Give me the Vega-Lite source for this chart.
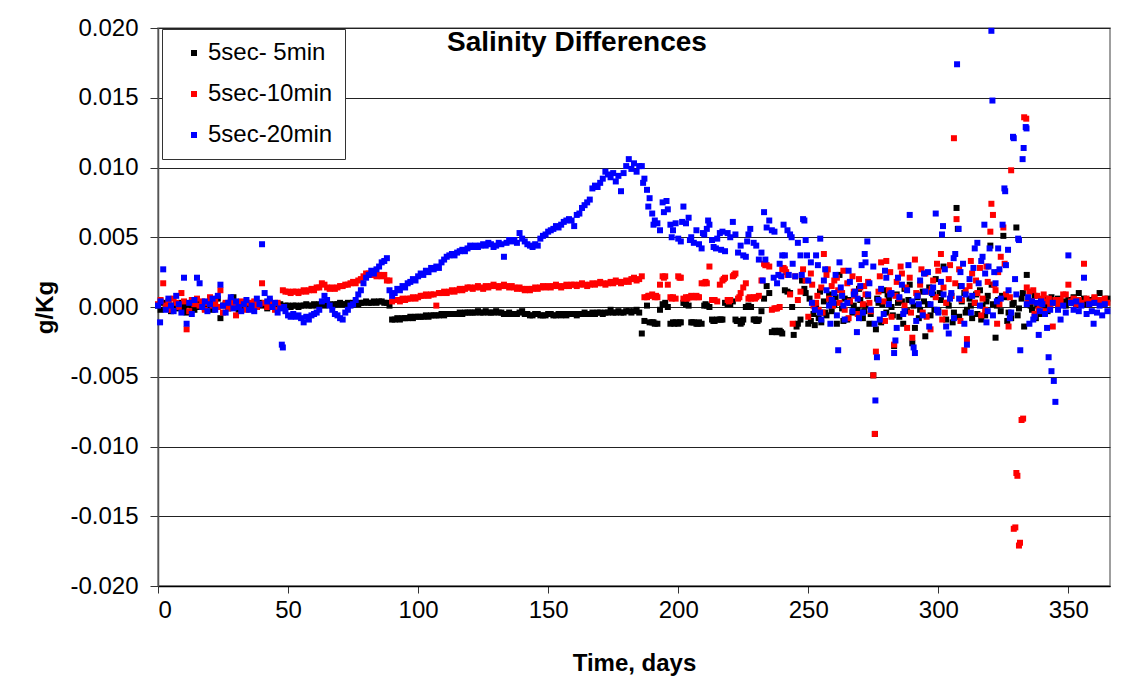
{
  "$schema": "https://vega.github.io/schema/vega-lite/v6.json",
  "width": 952,
  "height": 558,
  "autosize": "none",
  "padding": {"left": 158, "top": 28, "right": 32, "bottom": 111},
  "background": "white",
  "title": {
    "text": "Salinity Differences",
    "font": "Liberation Sans",
    "fontSize": 28,
    "fontWeight": "bold",
    "color": "#000",
    "anchor": "middle",
    "dx": -57,
    "dy": 45
  },
  "config": {
    "font": "Liberation Sans",
    "view": {"stroke": "#808080", "strokeWidth": 1.5},
    "axis": {
      "labelFont": "Liberation Sans",
      "labelFontSize": 24,
      "labelColor": "#000",
      "titleFont": "Liberation Sans",
      "titleFontSize": 24,
      "titleFontWeight": "bold",
      "titleColor": "#000",
      "tickColor": "#333",
      "domainColor": "#333",
      "domainWidth": 1.5,
      "tickWidth": 1
    }
  },
  "datasets": {
    "s5": [
      {"d":0,"v":0.0001},{"d":1,"v":-0.0002},{"d":2,"v":0.0003},{"d":3,"v":0.0000},{"d":4,"v":0.0002},{"d":5,"v":-0.0003},{"d":6,"v":0.0001},{"d":7,"v":0.0002},{"d":8,"v":-0.0001},{"d":9,"v":0.0003},
      {"d":10,"v":0.0000},{"d":11,"v":-0.0004},{"d":12,"v":0.0002},{"d":13,"v":0.0001},{"d":14,"v":-0.0002},{"d":15,"v":0.0003},{"d":16,"v":0.0000},{"d":17,"v":0.0002},{"d":18,"v":-0.0001},{"d":19,"v":0.0001},
      {"d":20,"v":0.0003},{"d":21,"v":-0.0002},{"d":22,"v":0.0000},{"d":23,"v":0.0006},{"d":24,"v":-0.0008},{"d":25,"v":0.0001},{"d":26,"v":0.0002},{"d":27,"v":-0.0001},{"d":28,"v":0.0004},{"d":29,"v":0.0007},
      {"d":30,"v":0.0001},{"d":31,"v":-0.0002},{"d":32,"v":0.0002},{"d":33,"v":0.0000},{"d":34,"v":0.0003},{"d":35,"v":0.0001},{"d":36,"v":-0.0001},{"d":37,"v":0.0002},{"d":38,"v":0.0000},{"d":39,"v":0.0003},
      {"d":40,"v":0.0001},{"d":41,"v":0.0002},{"d":42,"v":-0.0001},{"d":43,"v":0.0001},{"d":44,"v":0.0002},{"d":45,"v":0.0000},{"d":46,"v":0.0001},{"d":47,"v":0.0002},{"d":48,"v":0.0000},{"d":49,"v":0.0001},
      {"d":50,"v":0.0001},{"d":51,"v":0.0000},{"d":52,"v":0.0001},{"d":53,"v":0.0001},{"d":54,"v":0.0000},{"d":55,"v":0.0001},{"d":56,"v":0.0001},{"d":57,"v":0.0002},{"d":58,"v":0.0001},{"d":59,"v":0.0001},
      {"d":60,"v":0.0002},{"d":61,"v":0.0001},{"d":62,"v":0.0002},{"d":63,"v":0.0002},{"d":64,"v":0.0001},{"d":65,"v":0.0002},{"d":66,"v":0.0002},{"d":67,"v":0.0001},{"d":68,"v":0.0002},{"d":69,"v":0.0002},
      {"d":70,"v":0.0003},{"d":71,"v":0.0002},{"d":72,"v":0.0002},{"d":73,"v":0.0003},{"d":74,"v":0.0002},{"d":75,"v":0.0003},{"d":76,"v":0.0003},{"d":77,"v":0.0002},{"d":78,"v":0.0003},{"d":79,"v":0.0003},
      {"d":80,"v":0.0004},{"d":81,"v":0.0003},{"d":82,"v":0.0003},{"d":83,"v":0.0004},{"d":84,"v":0.0003},{"d":85,"v":0.0004},{"d":86,"v":0.0004},{"d":87,"v":0.0003},{"d":88,"v":0.0003},{"d":89,"v":0.0001},
      {"d":90,"v":-0.0009},{"d":91,"v":-0.0009},{"d":92,"v":-0.0008},{"d":93,"v":-0.0009},{"d":94,"v":-0.0008},{"d":95,"v":-0.0008},{"d":96,"v":-0.0008},{"d":97,"v":-0.0007},{"d":98,"v":-0.0008},{"d":99,"v":-0.0007},
      {"d":100,"v":-0.0007},{"d":101,"v":-0.0007},{"d":102,"v":-0.0007},{"d":103,"v":-0.0006},{"d":104,"v":-0.0007},{"d":105,"v":-0.0006},{"d":106,"v":-0.0006},{"d":107,"v":-0.0006},{"d":108,"v":-0.0006},{"d":109,"v":-0.0005},
      {"d":110,"v":-0.0006},{"d":111,"v":-0.0005},{"d":112,"v":-0.0005},{"d":113,"v":-0.0005},{"d":114,"v":-0.0005},{"d":115,"v":-0.0005},{"d":116,"v":-0.0004},{"d":117,"v":-0.0005},{"d":118,"v":-0.0004},{"d":119,"v":-0.0004},
      {"d":120,"v":-0.0004},{"d":121,"v":-0.0004},{"d":122,"v":-0.0004},{"d":123,"v":-0.0003},{"d":124,"v":-0.0004},{"d":125,"v":-0.0004},{"d":126,"v":-0.0003},{"d":127,"v":-0.0004},{"d":128,"v":-0.0004},{"d":129,"v":-0.0004},
      {"d":130,"v":-0.0003},{"d":131,"v":-0.0004},{"d":132,"v":-0.0004},{"d":133,"v":-0.0005},{"d":134,"v":-0.0005},{"d":135,"v":-0.0004},{"d":136,"v":-0.0005},{"d":137,"v":-0.0005},{"d":138,"v":-0.0005},{"d":139,"v":-0.0004},
      {"d":140,"v":-0.0003},{"d":141,"v":-0.0005},{"d":142,"v":-0.0005},{"d":143,"v":-0.0006},{"d":144,"v":-0.0006},{"d":145,"v":-0.0005},{"d":146,"v":-0.0005},{"d":147,"v":-0.0006},{"d":148,"v":-0.0006},{"d":149,"v":-0.0006},
      {"d":150,"v":-0.0005},{"d":151,"v":-0.0005},{"d":152,"v":-0.0006},{"d":153,"v":-0.0006},{"d":154,"v":-0.0005},{"d":155,"v":-0.0006},{"d":156,"v":-0.0005},{"d":157,"v":-0.0006},{"d":158,"v":-0.0005},{"d":159,"v":-0.0005},
      {"d":160,"v":-0.0005},{"d":161,"v":-0.0006},{"d":162,"v":-0.0005},{"d":163,"v":-0.0005},{"d":164,"v":-0.0004},{"d":165,"v":-0.0005},{"d":166,"v":-0.0005},{"d":167,"v":-0.0004},{"d":168,"v":-0.0005},{"d":169,"v":-0.0004},
      {"d":170,"v":-0.0004},{"d":171,"v":-0.0005},{"d":172,"v":-0.0004},{"d":173,"v":-0.0004},{"d":174,"v":-0.0002},{"d":175,"v":-0.0004},{"d":176,"v":-0.0004},{"d":177,"v":-0.0003},{"d":178,"v":-0.0004},{"d":179,"v":-0.0004},
      {"d":180,"v":-0.0003},{"d":181,"v":-0.0003},{"d":182,"v":-0.0004},{"d":183,"v":-0.0003},{"d":184,"v":-0.0002},{"d":185,"v":-0.0004},{"d":186,"v":-0.0019},{"d":187,"v":-0.0010},{"d":188,"v":0.0001},{"d":189,"v":-0.0011},
      {"d":190,"v":-0.0011},{"d":190.5,"v":-0.0011},{"d":191,"v":-0.0012},{"d":192,"v":-0.0012},{"d":193,"v":-0.0002},{"d":194,"v":0.0002},{"d":195,"v":0.0003},{"d":196,"v":0.0000},{"d":197,"v":-0.0012},{"d":198,"v":-0.0011},{"d":198.5,"v":-0.0012},{"d":199,"v":-0.0011},
      {"d":200,"v":-0.0012},{"d":200.5,"v":-0.0011},{"d":201,"v":-0.0011},{"d":202,"v":0.0003},{"d":202.5,"v":0.0003},{"d":203,"v":0.0002},{"d":204,"v":0.0001},{"d":205,"v":-0.0011},{"d":205.5,"v":-0.0011},{"d":206,"v":-0.0011},{"d":207,"v":-0.0012},{"d":207.5,"v":-0.0012},{"d":208,"v":-0.0011},{"d":209,"v":-0.0012},
      {"d":210,"v":0.0001},{"d":210.5,"v":0.0002},{"d":211,"v":0.0001},{"d":212,"v":0.0000},{"d":213,"v":-0.0009},{"d":213.5,"v":-0.0010},{"d":214,"v":-0.0010},{"d":215,"v":-0.0009},{"d":216,"v":-0.0009},{"d":216.5,"v":-0.0009},{"d":217,"v":-0.0009},{"d":218,"v":0.0003},{"d":219,"v":0.0002},{"d":219.5,"v":0.0003},
      {"d":220,"v":0.0002},{"d":221,"v":0.0004},{"d":222,"v":-0.0009},{"d":222.5,"v":-0.0010},{"d":223,"v":-0.0010},{"d":224,"v":-0.0012},{"d":224.5,"v":-0.0011},{"d":225,"v":-0.0009},{"d":226,"v":0.0000},{"d":227,"v":0.0001},{"d":227.5,"v":0.0000},{"d":228,"v":0.0000},{"d":229,"v":-0.0009},{"d":229.5,"v":-0.0009},
      {"d":230,"v":-0.0010},{"d":230.5,"v":-0.0010},{"d":231,"v":-0.0009},{"d":232,"v":-0.0003},{"d":233,"v":0.0006},{"d":234,"v":0.0015},{"d":235,"v":0.0010},{"d":236,"v":-0.0018},{"d":237,"v":-0.0017},{"d":237.5,"v":-0.0018},{"d":238,"v":-0.0018},{"d":239,"v":-0.0017},{"d":239.5,"v":-0.0018},
      {"d":240,"v":-0.0019},{"d":241,"v":0.0012},{"d":242,"v":0.0011},{"d":243,"v":0.0010},{"d":243.8,"v":0.0000},{"d":244.4,"v":-0.0020},{"d":245.5,"v":-0.0014},{"d":246,"v":-0.0012},{"d":247,"v":-0.0009},{"d":247.6,"v":0.0019},
      {"d":248.5,"v":0.0013},{"d":249,"v":0.0010},{"d":250,"v":-0.0012},{"d":250.5,"v":0.0006},{"d":251,"v":-0.0010},{"d":252,"v":-0.0005},{"d":252.5,"v":-0.0013},{"d":253,"v":0.0001},{"d":254,"v":-0.0008},{"d":254.5,"v":0.0011},{"d":255,"v":-0.0011},{"d":256,"v":0.0004},{"d":256.5,"v":-0.0004},{"d":257,"v":-0.0006},
      {"d":258,"v":0.0009},{"d":258.5,"v":0.0002},{"d":259,"v":-0.0003},{"d":260,"v":0.0002},{"d":260.5,"v":0.0007},{"d":261,"v":-0.0012},{"d":262,"v":0.0023},{"d":263,"v":-0.0001},{"d":263.5,"v":-0.0010},{"d":264,"v":0.0006},{"d":265,"v":-0.0009},{"d":265.5,"v":0.0005},{"d":266,"v":0.0003},{"d":267,"v":-0.0004},{"d":267.5,"v":0.0001},
      {"d":268,"v":0.0010},{"d":269,"v":-0.0002},{"d":269.5,"v":0.0013},{"d":270,"v":0.0005},{"d":271,"v":-0.0008},{"d":271.5,"v":-0.0003},{"d":272,"v":0.0001},{"d":273,"v":0.0008},{"d":273.5,"v":-0.0012},{"d":274,"v":-0.0005},{"d":275,"v":-0.0049},{"d":275.6,"v":-0.0091},{"d":276,"v":-0.0016},{"d":276.5,"v":0.0006},
      {"d":277,"v":0.0003},{"d":278,"v":-0.0011},{"d":278.5,"v":0.0002},{"d":279,"v":0.0012},{"d":280,"v":-0.0004},{"d":280.5,"v":0.0009},{"d":281,"v":0.0006},{"d":282,"v":0.0000},{"d":282.5,"v":-0.0006},{"d":283,"v":-0.0028},{"d":284,"v":0.0009},{"d":284.5,"v":0.0003},{"d":285,"v":-0.0007},{"d":286,"v":0.0004},{"d":286.5,"v":-0.0012},
      {"d":287,"v":0.0013},{"d":288,"v":-0.0003},{"d":288.5,"v":0.0005},{"d":289,"v":0.0016},{"d":290,"v":-0.0026},{"d":290.5,"v":0.0001},{"d":291,"v":-0.0015},{"d":292,"v":0.0007},{"d":292.5,"v":-0.0008},{"d":293,"v":-0.0002},{"d":294,"v":0.0011},{"d":294.5,"v":0.0004},{"d":295,"v":-0.0021},{"d":296,"v":0.0002},{"d":296.5,"v":0.0014},
      {"d":297,"v":-0.0006},{"d":298,"v":0.0009},{"d":298.5,"v":-0.0002},{"d":299,"v":0.0020},{"d":300,"v":-0.0003},{"d":300.5,"v":0.0010},{"d":301,"v":0.0005},{"d":302,"v":0.0029},{"d":303,"v":-0.0009},{"d":303.5,"v":0.0003},{"d":304,"v":0.0001},{"d":305,"v":0.0008},{"d":305.5,"v":-0.0011},{"d":306,"v":-0.0004},
      {"d":307,"v":0.0071},{"d":307.5,"v":0.0056},{"d":308,"v":-0.0007},{"d":308.5,"v":0.0015},{"d":309,"v":0.0004},{"d":310,"v":0.0010},{"d":310.5,"v":-0.0004},{"d":311,"v":-0.0002},{"d":312,"v":0.0006},{"d":312.5,"v":0.0001},{"d":313,"v":-0.0008},{"d":314,"v":0.0003},{"d":314.5,"v":0.0009},{"d":315,"v":-0.0005},
      {"d":316,"v":0.0012},{"d":316.5,"v":-0.0009},{"d":317,"v":0.0001},{"d":318,"v":-0.0006},{"d":318.5,"v":0.0004},{"d":319,"v":0.0008},{"d":320,"v":0.0044},{"d":320.5,"v":0.0016},{"d":321,"v":0.0002},{"d":322,"v":-0.0022},{"d":322.5,"v":0.0001},{"d":323,"v":0.0005},{"d":324,"v":-0.0003},{"d":324.5,"v":0.0008},{"d":325,"v":0.0051},
      {"d":326,"v":0.0007},{"d":326.5,"v":-0.0010},{"d":327,"v":-0.0004},{"d":328,"v":-0.0008},{"d":328.5,"v":0.0002},{"d":329,"v":0.0003},{"d":330,"v":0.0057},{"d":330.5,"v":-0.0006},{"d":331,"v":-0.0001},{"d":332,"v":0.0006},{"d":332.5,"v":0.0010},{"d":333,"v":-0.0014},{"d":334,"v":0.0023},{"d":335,"v":0.0004},{"d":335.5,"v":0.0001},
      {"d":336,"v":-0.0002},{"d":337,"v":0.0008},{"d":337.5,"v":-0.0008},{"d":338,"v":0.0001},{"d":339,"v":-0.0005},{"d":339.5,"v":0.0005},{"d":340,"v":0.0003},{"d":341,"v":0.0006},{"d":341.5,"v":0.0000},{"d":342,"v":-0.0003},{"d":343,"v":0.0002},{"d":343.5,"v":0.0007},{"d":344,"v":0.0005},{"d":345,"v":0.0003},
      {"d":346,"v":0.0006},{"d":347,"v":0.0002},{"d":348,"v":0.0004},{"d":349,"v":0.0001},{"d":350,"v":0.0005},{"d":351,"v":0.0003},{"d":352,"v":0.0007},{"d":353,"v":0.0002},{"d":354,"v":0.0010},{"d":355,"v":0.0004},
      {"d":356,"v":0.0006},{"d":357,"v":0.0002},{"d":358,"v":0.0005},{"d":359,"v":0.0003},{"d":360,"v":0.0006},{"d":361,"v":0.0004},{"d":362,"v":0.0010},{"d":363,"v":0.0005},{"d":364,"v":0.0003},{"d":365,"v":0.0006}
    ],
    "s10": [
      {"d":0,"v":0.0002},{"d":1,"v":0.0005},{"d":2,"v":0.0017},{"d":3,"v":0.0001},{"d":4,"v":0.0004},{"d":5,"v":-0.0002},{"d":6,"v":0.0006},{"d":7,"v":0.0003},{"d":8,"v":0.0000},{"d":9,"v":0.0010},
      {"d":10,"v":0.0004},{"d":11,"v":-0.0016},{"d":12,"v":-0.0003},{"d":13,"v":0.0005},{"d":14,"v":0.0002},{"d":15,"v":0.0006},{"d":16,"v":0.0001},{"d":17,"v":0.0004},{"d":18,"v":-0.0002},{"d":19,"v":0.0003},
      {"d":20,"v":0.0007},{"d":21,"v":0.0001},{"d":22,"v":0.0004},{"d":23,"v":0.0000},{"d":24,"v":0.0012},{"d":25,"v":-0.0004},{"d":26,"v":0.0003},{"d":27,"v":-0.0001},{"d":28,"v":0.0005},{"d":29,"v":0.0002},
      {"d":30,"v":-0.0006},{"d":31,"v":0.0001},{"d":32,"v":0.0004},{"d":33,"v":0.0002},{"d":34,"v":-0.0002},{"d":35,"v":0.0003},{"d":36,"v":0.0001},{"d":37,"v":0.0004},{"d":38,"v":0.0000},{"d":39,"v":0.0002},
      {"d":40,"v":0.0017},{"d":41,"v":0.0003},{"d":42,"v":0.0000},{"d":43,"v":0.0004},{"d":44,"v":0.0001},{"d":45,"v":-0.0002},{"d":46,"v":0.0003},{"d":47,"v":0.0000},{"d":48,"v":0.0012},{"d":49,"v":0.0011},
      {"d":50,"v":0.0011},{"d":51,"v":0.0010},{"d":52,"v":0.0011},{"d":53,"v":0.0011},{"d":54,"v":0.0010},{"d":55,"v":0.0011},{"d":56,"v":0.0012},{"d":57,"v":0.0011},{"d":58,"v":0.0012},{"d":59,"v":0.0013},
      {"d":60,"v":0.0012},{"d":61,"v":0.0014},{"d":62,"v":0.0014},{"d":63,"v":0.0017},{"d":64,"v":0.0016},{"d":65,"v":0.0014},{"d":66,"v":0.0013},{"d":67,"v":0.0014},{"d":68,"v":0.0013},{"d":69,"v":0.0014},
      {"d":70,"v":0.0015},{"d":71,"v":0.0015},{"d":72,"v":0.0016},{"d":73,"v":0.0016},{"d":74,"v":0.0017},{"d":75,"v":0.0018},{"d":76,"v":0.0017},{"d":77,"v":0.0019},{"d":78,"v":0.0020},{"d":79,"v":0.0022},
      {"d":80,"v":0.0024},{"d":81,"v":0.0024},{"d":82,"v":0.0023},{"d":83,"v":0.0023},{"d":84,"v":0.0022},{"d":85,"v":0.0023},{"d":86,"v":0.0022},{"d":87,"v":0.0023},{"d":88,"v":0.0019},{"d":89,"v":0.0019},
      {"d":90,"v":0.0004},{"d":91,"v":0.0005},{"d":92,"v":0.0005},{"d":93,"v":0.0004},{"d":94,"v":0.0006},{"d":95,"v":0.0005},{"d":96,"v":0.0006},{"d":97,"v":0.0006},{"d":98,"v":0.0007},{"d":99,"v":0.0006},
      {"d":100,"v":0.0007},{"d":101,"v":0.0008},{"d":102,"v":0.0008},{"d":103,"v":0.0009},{"d":104,"v":0.0008},{"d":105,"v":0.0009},{"d":106,"v":0.0009},{"d":107,"v":0.0001},{"d":108,"v":0.0010},{"d":109,"v":0.0010},
      {"d":110,"v":0.0011},{"d":111,"v":0.0010},{"d":112,"v":0.0011},{"d":113,"v":0.0012},{"d":114,"v":0.0011},{"d":115,"v":0.0012},{"d":116,"v":0.0013},{"d":117,"v":0.0012},{"d":118,"v":0.0013},{"d":119,"v":0.0014},
      {"d":120,"v":0.0014},{"d":121,"v":0.0013},{"d":122,"v":0.0014},{"d":123,"v":0.0015},{"d":124,"v":0.0014},{"d":125,"v":0.0013},{"d":126,"v":0.0015},{"d":127,"v":0.0014},{"d":128,"v":0.0015},{"d":129,"v":0.0016},
      {"d":130,"v":0.0015},{"d":131,"v":0.0014},{"d":132,"v":0.0015},{"d":133,"v":0.0016},{"d":134,"v":0.0015},{"d":135,"v":0.0014},{"d":136,"v":0.0015},{"d":137,"v":0.0014},{"d":138,"v":0.0013},{"d":139,"v":0.0014},
      {"d":140,"v":0.0013},{"d":141,"v":0.0012},{"d":142,"v":0.0013},{"d":143,"v":0.0012},{"d":144,"v":0.0013},{"d":145,"v":0.0014},{"d":146,"v":0.0013},{"d":147,"v":0.0014},{"d":148,"v":0.0015},{"d":149,"v":0.0014},
      {"d":150,"v":0.0015},{"d":151,"v":0.0014},{"d":152,"v":0.0015},{"d":153,"v":0.0016},{"d":154,"v":0.0015},{"d":155,"v":0.0014},{"d":156,"v":0.0015},{"d":157,"v":0.0016},{"d":158,"v":0.0015},{"d":159,"v":0.0016},
      {"d":160,"v":0.0016},{"d":161,"v":0.0015},{"d":162,"v":0.0016},{"d":163,"v":0.0017},{"d":164,"v":0.0016},{"d":165,"v":0.0015},{"d":166,"v":0.0016},{"d":167,"v":0.0017},{"d":168,"v":0.0016},{"d":169,"v":0.0017},
      {"d":170,"v":0.0018},{"d":171,"v":0.0017},{"d":172,"v":0.0016},{"d":173,"v":0.0017},{"d":174,"v":0.0018},{"d":175,"v":0.0017},{"d":176,"v":0.0019},{"d":177,"v":0.0018},{"d":178,"v":0.0017},{"d":179,"v":0.0018},
      {"d":180,"v":0.0019},{"d":181,"v":0.0018},{"d":182,"v":0.0020},{"d":183,"v":0.0021},{"d":184,"v":0.0019},{"d":185,"v":0.0020},{"d":186,"v":0.0022},{"d":187,"v":0.0007},{"d":188,"v":0.0007},{"d":188.5,"v":0.0008},{"d":189,"v":0.0008},
      {"d":190,"v":0.0009},{"d":191,"v":0.0007},{"d":191.5,"v":0.0008},{"d":192,"v":0.0007},{"d":193,"v":0.0016},{"d":194,"v":0.0022},{"d":194.5,"v":0.0021},{"d":195,"v":0.0022},{"d":196,"v":0.0016},{"d":197,"v":0.0007},{"d":197.5,"v":0.0006},{"d":198,"v":0.0007},{"d":199,"v":0.0006},
      {"d":200,"v":0.0022},{"d":200.5,"v":0.0021},{"d":201,"v":0.0021},{"d":202,"v":0.0006},{"d":203,"v":0.0007},{"d":203.5,"v":0.0006},{"d":204,"v":0.0007},{"d":205,"v":0.0008},{"d":205.5,"v":0.0007},{"d":206,"v":0.0007},{"d":207,"v":0.0008},{"d":207.5,"v":0.0007},{"d":208,"v":0.0007},{"d":209,"v":0.0017},
      {"d":210,"v":0.0017},{"d":210.5,"v":0.0018},{"d":211,"v":0.0017},{"d":212,"v":0.0029},{"d":213,"v":0.0005},{"d":213.5,"v":0.0005},{"d":214,"v":0.0005},{"d":215,"v":0.0004},{"d":216,"v":0.0016},{"d":217,"v":0.0019},{"d":217.5,"v":0.0020},{"d":218,"v":0.0021},{"d":219,"v":0.0005},{"d":219.5,"v":0.0004},
      {"d":220,"v":0.0005},{"d":221,"v":0.0022},{"d":221.5,"v":0.0023},{"d":222,"v":0.0024},{"d":223,"v":0.0006},{"d":223.5,"v":0.0007},{"d":224,"v":0.0010},{"d":225,"v":0.0014},{"d":226,"v":0.0017},{"d":227,"v":0.0006},{"d":227.5,"v":0.0007},{"d":228,"v":0.0006},{"d":229,"v":0.0007},{"d":229.5,"v":0.0006},
      {"d":230,"v":0.0007},{"d":231,"v":0.0008},{"d":232,"v":0.0019},{"d":233,"v":0.0031},{"d":233.5,"v":0.0030},{"d":234,"v":0.0030},{"d":235,"v":0.0029},{"d":236,"v":-0.0002},{"d":237,"v":-0.0001},{"d":237.5,"v":-0.0001},{"d":238,"v":-0.0001},{"d":239,"v":0.0000},
      {"d":240,"v":0.0027},{"d":240.5,"v":0.0028},{"d":241,"v":0.0027},{"d":241.5,"v":0.0025},{"d":242,"v":0.0023},{"d":243,"v":0.0009},{"d":244,"v":-0.0012},{"d":245,"v":0.0022},{"d":246,"v":0.0005},{"d":247,"v":0.0011},{"d":248,"v":0.0027},{"d":249,"v":0.0019},
      {"d":250,"v":-0.0007},{"d":251,"v":0.0024},{"d":251.5,"v":0.0016},{"d":252,"v":0.0001},{"d":253,"v":0.0003},{"d":253.5,"v":0.0008},{"d":254,"v":-0.0002},{"d":255,"v":0.0014},{"d":255.5,"v":-0.0004},{"d":256,"v":0.0038},{"d":257,"v":0.0023},{"d":257.5,"v":0.0027},{"d":258,"v":0.0006},{"d":259,"v":0.0015},{"d":259.5,"v":0.0001},
      {"d":260,"v":0.0019},{"d":261,"v":0.0021},{"d":261.5,"v":0.0012},{"d":262,"v":0.0003},{"d":263,"v":0.0010},{"d":263.5,"v":0.0026},{"d":264,"v":-0.0002},{"d":265,"v":0.0017},{"d":265.5,"v":-0.0008},{"d":266,"v":0.0004},{"d":267,"v":0.0022},{"d":267.5,"v":0.0011},{"d":268,"v":0.0008},{"d":269,"v":-0.0005},{"d":269.5,"v":0.0020},
      {"d":270,"v":0.0014},{"d":271,"v":0.0002},{"d":271.5,"v":0.0015},{"d":272,"v":0.0009},{"d":273,"v":0.0018},{"d":273.5,"v":0.0003},{"d":274,"v":-0.0003},{"d":275,"v":-0.0049},{"d":275.6,"v":-0.0091},{"d":276,"v":-0.0032},{"d":277,"v":0.0011},{"d":277.5,"v":0.0022},{"d":278,"v":0.0032},
      {"d":279,"v":0.0004},{"d":279.5,"v":-0.0010},{"d":280,"v":0.0033},{"d":281,"v":0.0012},{"d":281.5,"v":0.0025},{"d":282,"v":-0.0007},{"d":283,"v":-0.0027},{"d":283.5,"v":0.0008},{"d":284,"v":0.0018},{"d":285,"v":0.0006},{"d":285.5,"v":0.0029},{"d":286,"v":0.0024},{"d":287,"v":0.0001},{"d":287.5,"v":0.0014},{"d":288,"v":-0.0015},
      {"d":289,"v":0.0021},{"d":289.5,"v":-0.0004},{"d":290,"v":-0.0022},{"d":291,"v":0.0034},{"d":291.5,"v":0.0010},{"d":292,"v":0.0009},{"d":293,"v":0.0016},{"d":293.5,"v":0.0027},{"d":294,"v":-0.0004},{"d":295,"v":0.0024},{"d":295.5,"v":-0.0007},{"d":296,"v":0.0011},{"d":297,"v":-0.0016},{"d":297.5,"v":0.0013},{"d":298,"v":0.0019},
      {"d":299,"v":0.0007},{"d":299.5,"v":0.0031},{"d":300,"v":0.0026},{"d":301,"v":0.0038},{"d":301.5,"v":-0.0009},{"d":302,"v":0.0014},{"d":302.5,"v":-0.0004},{"d":303,"v":0.0003},{"d":304,"v":0.0020},{"d":304.5,"v":0.0030},{"d":305,"v":0.0008},{"d":306,"v":0.0121},{"d":306.5,"v":0.0017},{"d":307,"v":0.0063},
      {"d":308,"v":0.0027},{"d":308.5,"v":-0.0010},{"d":309,"v":0.0005},{"d":310,"v":-0.0031},{"d":310.5,"v":0.0012},{"d":311,"v":-0.0023},{"d":312,"v":0.0015},{"d":312.5,"v":0.0033},{"d":313,"v":0.0024},{"d":314,"v":0.0003},{"d":314.5,"v":0.0019},{"d":315,"v":0.0010},{"d":316,"v":0.0028},{"d":316.5,"v":-0.0006},{"d":317,"v":0.0006},
      {"d":318,"v":-0.0002},{"d":318.5,"v":0.0029},{"d":319,"v":0.0018},{"d":320,"v":0.0054},{"d":320.4,"v":0.0074},{"d":321,"v":0.0066},{"d":321.5,"v":0.0016},{"d":322,"v":0.0012},{"d":322.6,"v":-0.0012},{"d":323,"v":0.0025},{"d":323.5,"v":0.0002},{"d":324,"v":0.0036},{"d":325,"v":0.0057},{"d":325.5,"v":0.0031},
      {"d":326,"v":0.0009},{"d":327,"v":-0.0014},{"d":327.5,"v":0.0007},{"d":328,"v":0.0098},{"d":329,"v":-0.0159},{"d":329.6,"v":-0.0158},{"d":330,"v":-0.0119},{"d":330.4,"v":-0.0121},{"d":331,"v":-0.0171},{"d":331.4,"v":-0.0169},{"d":332,"v":-0.0081},
      {"d":332.6,"v":-0.0080},{"d":333,"v":0.0136},{"d":333.8,"v":0.0135},{"d":334,"v":0.0014},{"d":334.5,"v":0.0004},{"d":335,"v":0.0011},{"d":336,"v":0.0004},{"d":336.5,"v":0.0012},{"d":337,"v":-0.0005},{"d":338,"v":0.0008},{"d":338.5,"v":-0.0002},{"d":339,"v":0.0002},{"d":340,"v":0.0006},{"d":340.5,"v":0.0009},
      {"d":341,"v":-0.0003},{"d":342,"v":0.0004},{"d":342.5,"v":0.0006},{"d":343,"v":0.0001},{"d":344,"v":-0.0014},{"d":345,"v":0.0005},{"d":346,"v":0.0002},{"d":347,"v":0.0005},{"d":348,"v":0.0009},{"d":349,"v":0.0009},{"d":350,"v":0.0016},
      {"d":351,"v":0.0004},{"d":352,"v":0.0006},{"d":353,"v":0.0002},{"d":354,"v":0.0005},{"d":355,"v":0.0003},{"d":356,"v":0.0031},{"d":357,"v":0.0006},{"d":358,"v":0.0002},{"d":359,"v":0.0004},{"d":360,"v":0.0007},
      {"d":361,"v":0.0003},{"d":362,"v":0.0005},{"d":363,"v":0.0002},{"d":364,"v":0.0006},{"d":365,"v":0.0003}
    ],
    "s20": [
      {"d":0,"v":0.0001},{"d":0.8,"v":-0.0011},{"d":1,"v":0.0004},{"d":2,"v":0.0027},{"d":3,"v":-0.0002},{"d":4,"v":0.0006},{"d":5,"v":0.0001},{"d":6,"v":-0.0003},{"d":7,"v":0.0008},{"d":8,"v":0.0002},
      {"d":9,"v":-0.0004},{"d":10,"v":0.0021},{"d":11,"v":-0.0012},{"d":12,"v":0.0003},{"d":13,"v":-0.0005},{"d":14,"v":0.0005},{"d":15,"v":0.0021},{"d":16,"v":0.0017},{"d":17,"v":0.0000},{"d":18,"v":0.0004},
      {"d":19,"v":-0.0003},{"d":20,"v":0.0002},{"d":21,"v":0.0006},{"d":22,"v":-0.0002},{"d":23,"v":0.0008},{"d":24,"v":0.0016},{"d":25,"v":0.0001},{"d":26,"v":-0.0004},{"d":27,"v":0.0003},{"d":28,"v":0.0007},
      {"d":29,"v":-0.0001},{"d":30,"v":0.0004},{"d":31,"v":0.0000},{"d":32,"v":-0.0003},{"d":33,"v":0.0002},{"d":34,"v":0.0005},{"d":35,"v":-0.0002},{"d":36,"v":0.0001},{"d":37,"v":-0.0003},{"d":38,"v":0.0006},
      {"d":39,"v":0.0002},{"d":40,"v":0.0045},{"d":41,"v":0.0010},{"d":42,"v":0.0004},{"d":43,"v":0.0006},{"d":44,"v":0.0000},{"d":45,"v":0.0003},{"d":46,"v":-0.0004},{"d":47,"v":-0.0001},{"d":47.6,"v":-0.0027},
      {"d":48,"v":-0.0029},{"d":48.5,"v":0.0000},{"d":49,"v":-0.0003},{"d":50,"v":-0.0006},{"d":51,"v":-0.0007},{"d":52,"v":-0.0005},{"d":53,"v":-0.0007},{"d":54,"v":-0.0006},{"d":55,"v":-0.0008},{"d":56,"v":-0.0011},
      {"d":57,"v":-0.0007},{"d":58,"v":-0.0009},{"d":59,"v":-0.0006},{"d":60,"v":-0.0005},{"d":61,"v":-0.0004},{"d":62,"v":-0.0002},{"d":63,"v":0.0004},{"d":64,"v":0.0008},{"d":65,"v":0.0005},{"d":66,"v":0.0001},
      {"d":67,"v":-0.0002},{"d":68,"v":-0.0005},{"d":69,"v":-0.0006},{"d":70,"v":-0.0008},{"d":71,"v":-0.0009},{"d":72,"v":-0.0004},{"d":73,"v":-0.0002},{"d":74,"v":0.0001},{"d":75,"v":0.0002},{"d":76,"v":0.0005},
      {"d":77,"v":0.0009},{"d":78,"v":0.0012},{"d":79,"v":0.0017},{"d":80,"v":0.0021},{"d":81,"v":0.0023},{"d":82,"v":0.0026},{"d":83,"v":0.0024},{"d":84,"v":0.0027},{"d":85,"v":0.0029},{"d":86,"v":0.0032},
      {"d":87,"v":0.0033},{"d":88,"v":0.0035},{"d":89,"v":0.0012},{"d":90,"v":0.0008},{"d":91,"v":0.0010},{"d":92,"v":0.0013},{"d":93,"v":0.0012},{"d":94,"v":0.0015},{"d":95,"v":0.0014},{"d":96,"v":0.0017},
      {"d":97,"v":0.0018},{"d":98,"v":0.0020},{"d":99,"v":0.0019},{"d":100,"v":0.0022},{"d":101,"v":0.0024},{"d":102,"v":0.0023},{"d":103,"v":0.0026},{"d":104,"v":0.0025},{"d":105,"v":0.0028},{"d":106,"v":0.0027},
      {"d":107,"v":0.0029},{"d":108,"v":0.0028},{"d":109,"v":0.0032},{"d":110,"v":0.0034},{"d":111,"v":0.0036},{"d":112,"v":0.0037},{"d":113,"v":0.0038},{"d":114,"v":0.0037},{"d":115,"v":0.0039},{"d":116,"v":0.0040},
      {"d":117,"v":0.0041},{"d":118,"v":0.0040},{"d":119,"v":0.0042},{"d":120,"v":0.0044},{"d":121,"v":0.0043},{"d":122,"v":0.0044},{"d":123,"v":0.0043},{"d":124,"v":0.0044},{"d":125,"v":0.0045},{"d":126,"v":0.0044},
      {"d":127,"v":0.0046},{"d":128,"v":0.0045},{"d":129,"v":0.0043},{"d":130,"v":0.0044},{"d":131,"v":0.0046},{"d":132,"v":0.0045},{"d":133,"v":0.0036},{"d":134,"v":0.0046},{"d":135,"v":0.0048},{"d":136,"v":0.0047},
      {"d":137,"v":0.0048},{"d":138,"v":0.0046},{"d":139,"v":0.0053},{"d":140,"v":0.0049},{"d":141,"v":0.0047},{"d":142,"v":0.0045},{"d":143,"v":0.0044},{"d":144,"v":0.0043},{"d":145,"v":0.0045},{"d":146,"v":0.0044},
      {"d":147,"v":0.0049},{"d":148,"v":0.0051},{"d":149,"v":0.0052},{"d":150,"v":0.0054},{"d":151,"v":0.0055},{"d":152,"v":0.0056},{"d":153,"v":0.0058},{"d":154,"v":0.0057},{"d":155,"v":0.0059},{"d":156,"v":0.0061},
      {"d":157,"v":0.0062},{"d":158,"v":0.0063},{"d":159,"v":0.0062},{"d":160,"v":0.0058},{"d":161,"v":0.0066},{"d":162,"v":0.0067},{"d":163,"v":0.0071},{"d":164,"v":0.0073},{"d":165,"v":0.0075},{"d":166,"v":0.0077},
      {"d":167,"v":0.0085},{"d":168,"v":0.0087},{"d":169,"v":0.0086},{"d":170,"v":0.0089},{"d":171,"v":0.0092},{"d":172,"v":0.0097},{"d":173,"v":0.0095},{"d":174,"v":0.0093},{"d":175,"v":0.0096},{"d":176,"v":0.0090},
      {"d":177,"v":0.0094},{"d":178,"v":0.0083},{"d":179,"v":0.0096},{"d":180,"v":0.0101},{"d":181,"v":0.0106},{"d":182,"v":0.0099},{"d":183,"v":0.0103},{"d":184,"v":0.0097},{"d":185,"v":0.0101},{"d":186,"v":0.0101},
      {"d":186.5,"v":0.0089},{"d":187,"v":0.0092},{"d":188,"v":0.0084},{"d":188.5,"v":0.0072},{"d":189,"v":0.0078},{"d":190,"v":0.0067},{"d":190.5,"v":0.0059},{"d":191,"v":0.0062},{"d":192,"v":0.0060},{"d":193,"v":0.0055},
      {"d":194,"v":0.0075},{"d":194.5,"v":0.0068},{"d":195.5,"v":0.0076},{"d":196,"v":0.0070},{"d":197,"v":0.0059},{"d":197.5,"v":0.0050},{"d":198,"v":0.0055},{"d":199,"v":0.0060},{"d":200,"v":0.0049},{"d":201,"v":0.0047},
      {"d":201.5,"v":0.0061},{"d":202,"v":0.0072},{"d":203,"v":0.0060},{"d":204,"v":0.0064},{"d":204.5,"v":0.0048},{"d":205,"v":0.0050},{"d":206,"v":0.0046},{"d":207,"v":0.0055},{"d":208,"v":0.0045},{"d":209,"v":0.0042},
      {"d":209.5,"v":0.0053},{"d":210,"v":0.0052},{"d":211,"v":0.0056},{"d":211.5,"v":0.0062},{"d":212,"v":0.0059},{"d":213,"v":0.0048},{"d":213.6,"v":0.0043},{"d":214.5,"v":0.0042},{"d":215,"v":0.0049},{"d":216,"v":0.0053},
      {"d":216.5,"v":0.0041},{"d":217,"v":0.0054},{"d":218,"v":0.0040},{"d":219,"v":0.0053},{"d":220,"v":0.0050},{"d":221,"v":0.0061},{"d":222,"v":0.0052},{"d":223,"v":0.0039},{"d":224,"v":0.0044},{"d":225,"v":0.0037},
      {"d":226,"v":0.0036},{"d":226.5,"v":0.0047},{"d":227,"v":0.0052},{"d":227.7,"v":0.0056},{"d":229,"v":0.0046},{"d":230,"v":0.0044},{"d":231,"v":0.0034},{"d":232,"v":0.0039},{"d":232.5,"v":0.0019},{"d":233,"v":0.0068},
      {"d":233.5,"v":0.0034},{"d":234,"v":0.0057},{"d":235,"v":0.0062},{"d":236,"v":0.0055},{"d":236.7,"v":0.0021},{"d":237,"v":0.0054},{"d":238,"v":0.0017},{"d":238.5,"v":0.0023},{"d":239,"v":0.0031},{"d":239.6,"v":0.0022},
      {"d":240,"v":0.0037},{"d":240.5,"v":0.0059},{"d":241,"v":0.0037},{"d":242,"v":0.0055},{"d":242.5,"v":0.0023},{"d":243,"v":0.0052},{"d":243.6,"v":0.0050},{"d":244,"v":0.0031},{"d":245,"v":0.0022},{"d":246,"v":0.0046},
      {"d":247,"v":0.0037},{"d":247.5,"v":0.0023},{"d":248,"v":0.0063},{"d":248.5,"v":0.0062},{"d":249,"v":0.0048},{"d":249.5,"v":0.0037},{"d":250,"v":0.0019},{"d":251,"v":0.0032},{"d":251.4,"v":0.0003},{"d":252.5,"v":-0.0002},
      {"d":253,"v":0.0037},{"d":253.7,"v":0.0030},{"d":254.5,"v":-0.0004},{"d":254.6,"v":0.0049},{"d":255,"v":-0.0009},{"d":256,"v":0.0019},{"d":256.5,"v":0.0027},{"d":257,"v":0.0012},{"d":258,"v":0.0001},{"d":258.5,"v":-0.0012},{"d":259,"v":0.0005},{"d":259.6,"v":0.0003},
      {"d":260,"v":0.0010},{"d":260.5,"v":0.0023},{"d":261,"v":-0.0006},{"d":261.5,"v":-0.0031},{"d":262,"v":0.0032},{"d":262.5,"v":0.0014},{"d":263,"v":0.0008},{"d":263.5,"v":0.0001},{"d":264,"v":-0.0009},{"d":265,"v":0.0003},{"d":265.5,"v":0.0026},{"d":266,"v":0.0018},{"d":267,"v":-0.0003},{"d":267.5,"v":0.0009},
      {"d":268,"v":0.0011},{"d":268.7,"v":-0.0018},{"d":269,"v":0.0006},{"d":269.5,"v":-0.0008},{"d":270,"v":0.0015},{"d":270.5,"v":0.0030},{"d":271,"v":-0.0004},{"d":271.7,"v":0.0038},{"d":272,"v":0.0032},{"d":272.7,"v":0.0047},{"d":273,"v":0.0009},{"d":273.5,"v":0.0017},{"d":274,"v":-0.0002},
      {"d":275,"v":0.0029},{"d":275.5,"v":-0.0012},{"d":275.8,"v":-0.0067},{"d":276.4,"v":-0.0036},{"d":277,"v":0.0005},{"d":277.5,"v":-0.0009},{"d":278,"v":0.0013},{"d":279,"v":-0.0005},{"d":279.5,"v":0.0026},{"d":280,"v":0.0021},{"d":281,"v":0.0002},{"d":281.5,"v":0.0009},{"d":282,"v":0.0010},
      {"d":283,"v":-0.0033},{"d":283.5,"v":-0.0024},{"d":284,"v":-0.0015},{"d":284.5,"v":0.0021},{"d":285,"v":0.0007},{"d":286,"v":0.0016},{"d":286.5,"v":-0.0005},{"d":287,"v":-0.0003},{"d":288,"v":0.0012},{"d":288.5,"v":0.0030},{"d":289,"v":0.0066},{"d":290,"v":0.0004},{"d":290.5,"v":-0.0029},
      {"d":291,"v":-0.0033},{"d":291.5,"v":-0.0010},{"d":292,"v":0.0008},{"d":292.5,"v":0.0002},{"d":293,"v":0.0019},{"d":294,"v":-0.0006},{"d":294.5,"v":0.0024},{"d":295,"v":0.0011},{"d":296,"v":0.0025},{"d":296.5,"v":-0.0014},{"d":297,"v":0.0002},{"d":297.5,"v":0.0010},{"d":298,"v":0.0014},
      {"d":299,"v":0.0067},{"d":299.5,"v":-0.0002},{"d":300,"v":-0.0004},{"d":301,"v":0.0018},{"d":301.4,"v":0.0052},{"d":301.8,"v":0.0058},{"d":302,"v":0.0009},{"d":302.5,"v":0.0027},{"d":303,"v":-0.0014},{"d":304,"v":-0.0019},{"d":304.5,"v":0.0006},{"d":305,"v":0.0010},{"d":305.9,"v":0.0035},
      {"d":306,"v":-0.0008},{"d":306.5,"v":0.0038},{"d":307.2,"v":0.0174},{"d":307.8,"v":0.0056},{"d":308,"v":0.0006},{"d":308.5,"v":0.0025},{"d":309,"v":0.0015},{"d":309.5,"v":0.0031},{"d":310,"v":-0.0012},{"d":310.5,"v":0.0009},{"d":311,"v":-0.0027},{"d":312,"v":0.0020},{"d":312.5,"v":-0.0004},
      {"d":313,"v":0.0008},{"d":313.5,"v":0.0028},{"d":314,"v":0.0042},{"d":315,"v":0.0046},{"d":315.5,"v":0.0017},{"d":316,"v":0.0001},{"d":316.5,"v":0.0033},{"d":317,"v":0.0036},{"d":317.7,"v":0.0059},{"d":318,"v":0.0024},{"d":318.5,"v":-0.0011},
      {"d":319,"v":-0.0003},{"d":319.3,"v":0.0029},{"d":319.7,"v":0.0042},{"d":320.4,"v":0.0198},{"d":320.8,"v":0.0148},{"d":321,"v":-0.0006},{"d":321.5,"v":0.0025},{"d":322,"v":0.0017},{"d":322.5,"v":0.0004},{"d":323,"v":0.0042},{"d":323.5,"v":0.0027},{"d":324,"v":0.0006},{"d":324.7,"v":0.0059},
      {"d":325.4,"v":0.0085},{"d":325.7,"v":0.0083},{"d":326,"v":0.0030},{"d":326.8,"v":0.0041},{"d":327,"v":0.0012},{"d":327.5,"v":-0.0008},{"d":328,"v":-0.0004},{"d":328.7,"v":0.0122},{"d":329,"v":0.0121},{"d":329.5,"v":0.0020},{"d":330,"v":0.0009},{"d":330.7,"v":0.0049},
      {"d":331,"v":0.0048},{"d":331.5,"v":-0.0031},{"d":332.4,"v":0.0106},{"d":332.8,"v":0.0114},{"d":333.6,"v":0.0129},{"d":333.9,"v":0.0128},{"d":334,"v":0.0002},{"d":334.5,"v":0.0007},{"d":335,"v":-0.0012},{"d":336,"v":0.0004},{"d":336.5,"v":-0.0009},{"d":337,"v":-0.0007},
      {"d":338,"v":0.0003},{"d":338.6,"v":-0.0020},{"d":339,"v":-0.0003},{"d":339.5,"v":0.0004},{"d":340,"v":0.0002},{"d":341,"v":-0.0005},{"d":341.8,"v":-0.0015},{"d":342.4,"v":-0.0036},{"d":343,"v":-0.0002},{"d":343.5,"v":-0.0046},{"d":344,"v":0.0003},{"d":344.4,"v":-0.0053},{"d":345,"v":-0.0068},
      {"d":346,"v":-0.0002},{"d":347,"v":-0.0009},{"d":348,"v":0.0001},{"d":349,"v":-0.0004},{"d":350,"v":0.0037},{"d":351,"v":0.0003},{"d":352,"v":-0.0002},{"d":353,"v":0.0004},{"d":354,"v":-0.0003},{"d":355,"v":0.0001},
      {"d":356,"v":0.0021},{"d":357,"v":-0.0005},{"d":358,"v":0.0002},{"d":359,"v":-0.0003},{"d":359.7,"v":-0.0012},{"d":360,"v":0.0003},{"d":361,"v":-0.0004},{"d":362,"v":0.0001},{"d":363,"v":-0.0006},{"d":364,"v":0.0002},
      {"d":365,"v":-0.0003}
    ]
  },
  "encoding": {
    "x": {
      "field": "d",
      "type": "quantitative",
      "scale": {"domain": [0, 366], "nice": false, "zero": false},
      "axis": {
        "title": "Time, days",
        "values": [0, 50, 100, 150, 200, 250, 300, 350],
        "grid": false,
        "tickSize": 7,
        "labelPadding": 5,
        "titlePadding": 29,
        "domainColor": "#000"
      }
    },
    "y": {
      "field": "v",
      "type": "quantitative",
      "scale": {"domain": [-0.02, 0.02], "nice": false, "zero": false},
      "axis": {
        "title": "g/Kg",
        "values": [-0.02, -0.015, -0.01, -0.005, 0, 0.005, 0.01, 0.015, 0.02],
        "labelExpr": "replace(format(datum.value, '.3f'), '\u2212', '-')",
        "grid": true,
        "gridColor": "#222",
        "gridWidth": 1,
        "tickSize": 8,
        "labelPadding": 12,
        "titlePadding": 12,
        "domainColor": "#555"
      }
    }
  },
  "layer": [
    {
      "data": {"name": "s5"},
      "mark": {"type": "square", "size": 36, "opacity": 1, "filled": true},
      "encoding": {
        "color": {
          "datum": "5sec- 5min",
          "type": "nominal",
          "scale": {"domain": ["5sec- 5min", "5sec-10min", "5sec-20min"], "range": ["#000000", "#ff0000", "#0000ff"]},
          "legend": {
            "title": null,
            "orient": "none",
            "legendX": 4,
            "legendY": 1,
            "symbolType": "square",
            "symbolSize": 36,
            "symbolStrokeWidth": 0,
            "labelFont": "Liberation Sans",
            "labelFontSize": 24,
            "labelColor": "#000",
            "labelOffset": 2,
            "symbolOffset": 8,
            "padding": 12,
            "rowPadding": 17,
            "strokeColor": "#333",
            "fillColor": "#ffffff"
          }
        }
      }
    },
    {
      "data": {"name": "s10"},
      "mark": {"type": "square", "size": 36, "opacity": 1, "filled": true},
      "encoding": {"color": {"datum": "5sec-10min", "type": "nominal"}}
    },
    {
      "data": {"name": "s20"},
      "mark": {"type": "square", "size": 36, "opacity": 1, "filled": true},
      "encoding": {"color": {"datum": "5sec-20min", "type": "nominal"}}
    }
  ]
}
